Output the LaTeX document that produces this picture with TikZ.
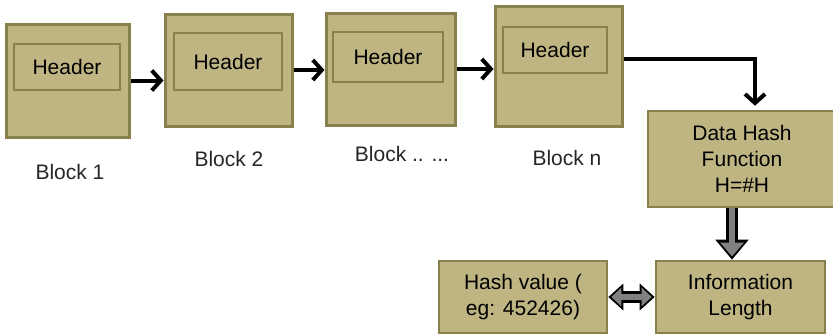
\documentclass[tikz,border=0pt]{standalone}
\usepackage{fontspec}
\setmainfont{Liberation Sans}
\usepackage{tikz}
\usetikzlibrary{positioning,arrows.meta,calc}
\definecolor{blockfill}{RGB}{190,181,131}
\definecolor{blockedge}{RGB}{136,129,78}
\definecolor{fatgray}{RGB}{128,128,128}
\tikzset{
  block-node/.style={draw=blockedge, line width=1.5pt, fill=blockfill,
    inner sep=0pt},
  header-node/.style={draw=blockedge, line width=1.3pt, fill=blockfill,
    font=\fontsize{10.5}{13}\selectfont, inner sep=0pt},
  label-node/.style={font=\fontsize{10.5}{13}\selectfont, text=black!85},
  func-node/.style={draw=blockedge, line width=1.3pt, fill=blockfill,
    font=\fontsize{10.5}{13}\selectfont, align=center, inner sep=0pt},
  chain-arrow/.style={-{Straight Barb[length=4.5pt, width=10pt]}, line width=2pt},
  fat-outer/.style={line width=6pt, draw=black, -{Triangle[length=10pt, width=16pt]}},
  fat-inner/.style={line width=3pt, draw=fatgray, shorten >=1.6pt,
    -{Triangle[length=7pt, width=11.5pt]}},
  twin-outer/.style={line width=6pt, draw=black,
    {Triangle[length=7.5pt, width=13pt]}-{Triangle[length=7.5pt, width=13pt]}},
  twin-inner/.style={line width=3pt, draw=fatgray, shorten >=1.5pt, shorten <=1.5pt,
    {Triangle[length=5pt, width=9pt]}-{Triangle[length=5pt, width=9pt]}}
}
\begin{document}
\begin{tikzpicture}[x=0.5pt, y=-0.5pt]
\clip (0,0) rectangle (833,334);
% chain of blocks, each with its header
\node[block-node, minimum width=61.5pt, minimum height=56.5pt] (blk1) at (67.5,80.5) {};
\node[header-node, minimum width=53pt, minimum height=23pt] (hdr1) at (67,67) {Header};
\node[block-node, minimum width=63.5pt, minimum height=56pt] (blk2) at (228.5,70) {};
\node[header-node, minimum width=54pt, minimum height=28.5pt] (hdr2) at (228,61.5) {Header};
\node[block-node, minimum width=64.5pt, minimum height=56pt] (blk3) at (390.5,69) {};
\node[header-node, minimum width=55pt, minimum height=25pt] (hdr3) at (388,57) {Header};
\node[block-node, minimum width=63.5pt, minimum height=60pt] (blkn) at (558.5,66) {};
\node[header-node, minimum width=52pt, minimum height=23pt] (hdrn) at (555,50) {Header};
% block captions
\node[label-node] (lbl1) at (70,172) {Block 1};
\node[label-node] (lbl2) at (229,159) {Block 2};
\node[label-node] (lbl3) at (402,154) {Block .. ...};
\node[label-node] (lbln) at (567,158) {Block n};
% hashing stage
\node[func-node, minimum width=94pt, minimum height=48pt] (hash) at (742,159) {Data Hash\\Function\\H=\#H};
\node[func-node, minimum width=84.5pt, minimum height=36pt] (info) at (740.5,297) {Information\\Length};
\node[func-node, minimum width=84pt, minimum height=36pt] (hval) at (523,297) {Hash value (\\eg: 452426)};
% links along the chain
\draw[chain-arrow] (blk1.east) -- (blk1.east -| blk2.west);
\draw[chain-arrow] (blk2.east) -- (blk2.east -| blk3.west);
\draw[chain-arrow] (blk3.east) -- (blk3.east -| blkn.west);
\draw[chain-arrow, shorten >=2pt] ([yshift=3.5pt]blkn.east) -| ([xshift=6.5pt]hash.north);
% fat arrows into and out of the length box
\draw[fat-outer] ([xshift=-5pt]hash.south) -- ([xshift=-5pt]hash.south |- info.north);
\draw[fat-inner] ([xshift=-5pt]hash.south) -- ([xshift=-5pt]hash.south |- info.north);
\draw[twin-outer] (hval.east) -- (info.west);
\draw[twin-inner] (hval.east) -- (info.west);
\end{tikzpicture}
\end{document}
